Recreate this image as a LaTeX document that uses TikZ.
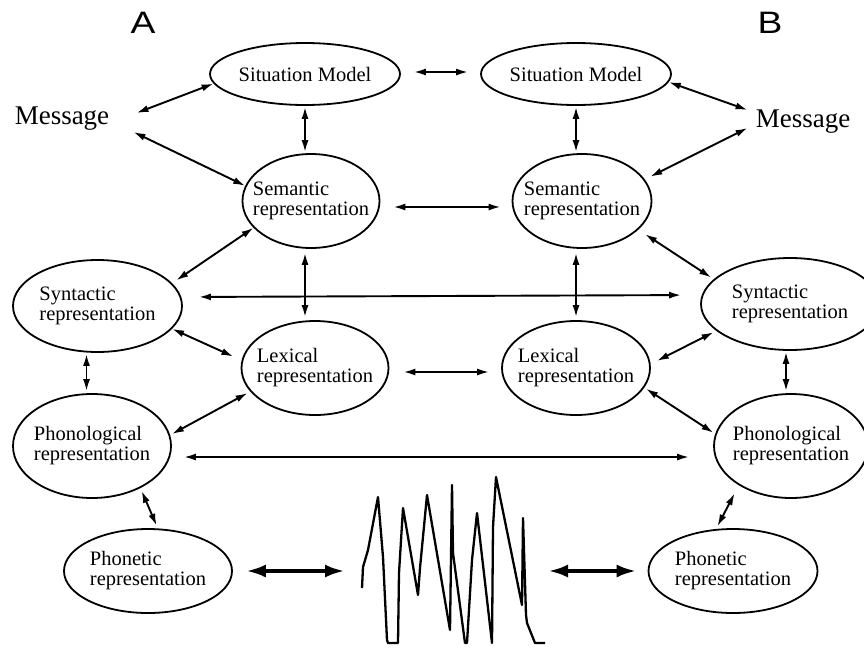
\documentclass[tikz,border=0pt]{standalone}
\usepackage{fontspec}
\setmainfont{Liberation Serif}
\newfontfamily\labelfont{Liberation Sans}
\usetikzlibrary{shapes.geometric,arrows.meta}
\tikzset{
  ell/.style={ellipse, draw, line width=1.8pt, inner sep=-25pt, align=left,
    font=\fontsize{20.5}{20}\selectfont},
  msg/.style={inner sep=0pt, font=\fontsize{27}{27}\selectfont},
  lab/.style={inner sep=0pt, font=\labelfont\fontsize{31}{31}\selectfont},
  dbl/.style={{Latex[length=12pt,width=7pt]}-{Latex[length=12pt,width=7pt]}, line width=1.9pt},
  thk/.style={{Latex[length=20pt,width=13pt]}-{Latex[length=20pt,width=13pt]}, line width=4pt},
  wave/.style={line width=2.3pt, line join=round},
}
\begin{document}
\begin{tikzpicture}[x=1pt,y=-1pt]
\useasboundingbox (0,0) rectangle (864,651);
\begin{scope}
\clip (0,0) rectangle (864,651);
% labels
\node[lab] (labA) at (143,23) {\scalebox{1.2}[1]{A}};
\node[lab] (labB) at (770,23) {\scalebox{1.2}[1]{B}};
% messages
\node[msg] (msgA) at (62,119) {Message};
\node[msg] (msgB) at (803,122) {Message};
% ellipses
\node[ell, minimum width=190pt, minimum height=62pt] (sitA) at (305,74) {Situation Model};
\node[ell, minimum width=190pt, minimum height=62pt] (sitB) at (576,74) {Situation Model};
\node[ell, minimum width=137pt, minimum height=94pt] (semA) at (311,201) {Semantic\\representation};
\node[ell, minimum width=139pt, minimum height=94pt] (semB) at (582,201) {Semantic\\representation};
\node[ell, minimum width=169pt, minimum height=92pt] (synA) at (97.5,306) {Syntactic\\representation};
\node[ell, minimum width=178pt, minimum height=92pt] (synB) at (790,304) {Syntactic\\representation};
\node[ell, minimum width=147pt, minimum height=94pt] (lexA) at (315,368) {Lexical\\representation};
\node[ell, minimum width=148pt, minimum height=94pt] (lexB) at (576,368) {Lexical\\representation};
\node[ell, minimum width=158pt, minimum height=104pt] (phonA) at (92,446) {Phonological\\representation};
\node[ell, minimum width=154pt, minimum height=104pt] (phonB) at (791,446) {Phonological\\representation};
\node[ell, minimum width=168pt, minimum height=84pt] (phonetA) at (148,571) {Phonetic\\representation};
\node[ell, minimum width=169pt, minimum height=84pt] (phonetB) at (733,571) {Phonetic\\representation};
% waveform
\coordinate (waveL) at (345,571);
\coordinate (waveR) at (548,571);
\draw[wave] (362,588) -- (363,567) -- (368,550) -- (378,497) -- (383,557) -- (387,640)
  -- (388,643) -- (398,643) -- (399,573) -- (403,508) -- (418,595) -- (420,568)
  -- (427,495) -- (450,630) -- (452,485) -- (453,553) -- (465,643) -- (467,643)
  -- (472,560) -- (477,513) -- (492,643) -- (493,527) -- (496,477) -- (522,605)
  -- (523,518) -- (526,615) -- (527,623) -- (535,643) -- (545,643);
% connectors, side A
\draw[dbl] ([xshift=27pt,yshift=6pt]msgA.east) -- (sitA.186);
\draw[dbl] ([xshift=24pt,yshift=-13pt]msgA.east) -- (semA.167);
\draw[dbl, shorten <=13pt, shorten >=12pt] ([yshift=2pt]sitA.east) -- ([yshift=2pt]sitB.west);
\draw[dbl, shorten <=1pt, shorten >=1pt] (sitA.south) -- (sitA.south |- semA.north);
\draw[dbl, shorten <=13pt, shorten >=11pt] ([yshift=-6pt]semA.east) -- ([yshift=-6pt]semB.west);
\draw[dbl, shorten >=5pt] (semA.205) -- (synA.17);
\draw[dbl, shorten <=16pt, shorten >=19pt] ([yshift=9pt]synA.east) -- ([yshift=9pt]synB.west);
\draw[dbl, shorten <=4pt, shorten >=3pt] ([xshift=-6pt]semA.south) -- ([xshift=-6pt]semA.south |- lexA.north);
\draw[dbl, shorten >=9pt] (synA.-17) -- (lexA.174);
\draw[dbl, shorten <=14pt, shorten >=12pt] ([yshift=-4pt]lexA.east) -- ([yshift=-4pt]lexB.west);
\draw[dbl, shorten <=1pt, shorten >=2pt] ([xshift=-11pt]synA.south) -- ([xshift=-11pt]synA.south |- phonA.north);
\draw[dbl, shorten <=3pt, shorten >=2pt] (lexA.200) -- (phonA.8);
\draw[dbl, shorten <=12pt, shorten >=24pt] ([yshift=-11pt]phonA.east) -- ([yshift=-11pt]phonB.west);
\draw[dbl, shorten <=3pt, shorten >=3pt] (phonA.-41) -- (phonetA.77);
\draw[thk, shorten <=13pt] (phonetA.east) -- (waveL);
\draw[thk, shorten >=11pt] (waveR) -- (phonetB.west);
% connectors, side B
\draw[dbl] (sitB.-5) -- ([xshift=-8pt,yshift=12pt]msgB.west);
\draw[dbl, shorten <=6pt] (semB.19) -- ([xshift=-8pt,yshift=-6pt]msgB.west);
\draw[dbl, shorten <=1pt, shorten >=1pt] (sitB.south) -- (sitB.south |- semB.north);
\draw[dbl, shorten <=8pt, shorten >=3pt] (semB.-27) -- (synB.162);
\draw[dbl, shorten <=4pt, shorten >=3pt] ([xshift=-6pt]semB.south) -- ([xshift=-6pt]semB.south |- lexB.north);
\draw[dbl, shorten <=7pt, shorten >=3pt] (lexB.3.5) -- (synB.200);
\draw[dbl, shorten <=2pt, shorten >=2pt] (lexB.-16) -- (phonB.171);
\draw[dbl, shorten <=1pt, shorten >=2pt] ([xshift=-4pt]synB.south) -- ([xshift=-4pt]synB.south |- phonB.north);
\draw[dbl, shorten <=9pt, shorten >=3pt] (phonB.217) -- (phonetB.112);
\end{scope}
\end{tikzpicture}
\end{document}
